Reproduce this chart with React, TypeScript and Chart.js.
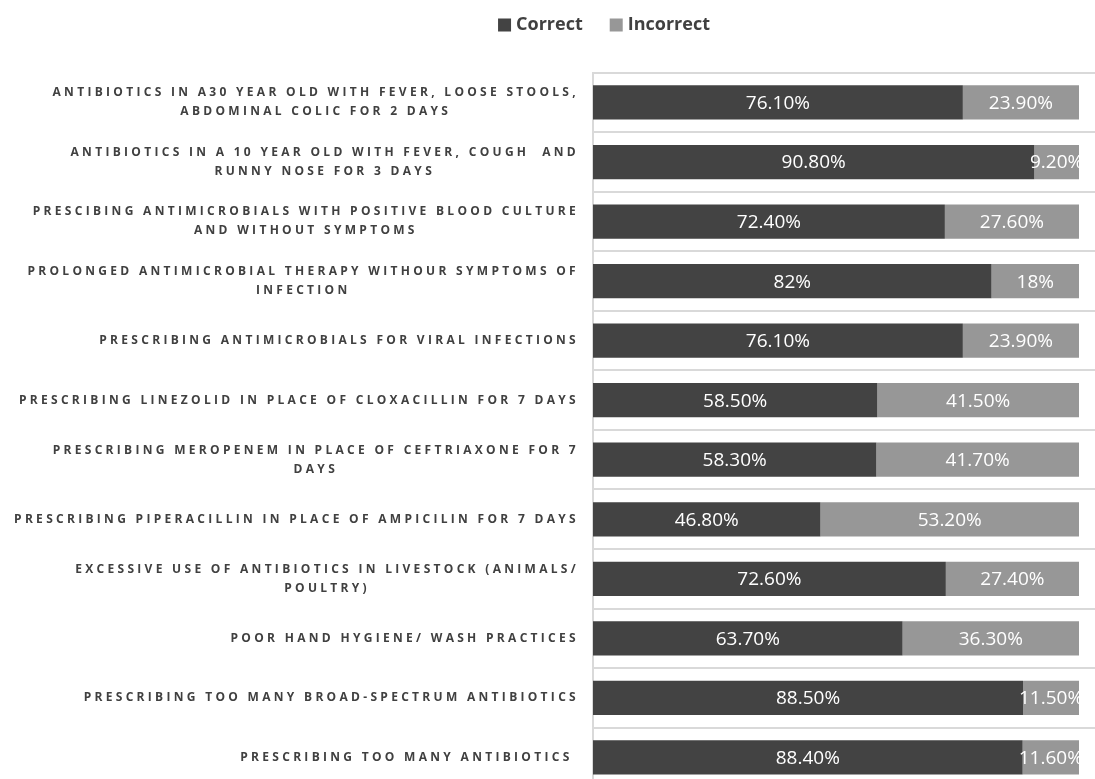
import React, { useEffect, useRef } from "react";
import { Chart, registerables } from "chart.js";

Chart.register(...registerables);

const categories: string[][] = [
  ["ANTIBIOTICS IN A30 YEAR OLD WITH FEVER, LOOSE STOOLS,", "ABDOMINAL COLIC FOR 2 DAYS"],
  ["ANTIBIOTICS IN A 10 YEAR OLD WITH FEVER, COUGH  AND", "RUNNY NOSE FOR 3 DAYS"],
  ["PRESCIBING ANTIMICROBIALS WITH POSITIVE BLOOD CULTURE", "AND WITHOUT SYMPTOMS"],
  ["PROLONGED ANTIMICROBIAL THERAPY WITHOUR SYMPTOMS OF", "INFECTION"],
  ["PRESCRIBING ANTIMICROBIALS FOR VIRAL INFECTIONS"],
  ["PRESCRIBING LINEZOLID IN PLACE OF CLOXACILLIN FOR 7 DAYS"],
  ["PRESCRIBING MEROPENEM IN PLACE OF CEFTRIAXONE FOR 7", "DAYS"],
  ["PRESCRIBING PIPERACILLIN IN PLACE OF AMPICILIN FOR 7 DAYS"],
  ["EXCESSIVE USE OF ANTIBIOTICS IN LIVESTOCK (ANIMALS/", "POULTRY)"],
  ["POOR HAND HYGIENE/ WASH PRACTICES"],
  ["PRESCRIBING TOO MANY BROAD-SPECTRUM ANTIBIOTICS"],
  ["PRESCRIBING TOO MANY ANTIBIOTICS "],
];

const correctValues = [76.1, 90.8, 72.4, 82, 76.1, 58.5, 58.3, 46.8, 72.6, 63.7, 88.5, 88.4];
const incorrectValues = [23.9, 9.2, 27.6, 18, 23.9, 41.5, 41.7, 53.2, 27.4, 36.3, 11.5, 11.6];

const seriesNames = ["Correct", "Incorrect"];
const seriesColors = ["#434343", "#979797"];

const fmt = (v: number) => (Number.isInteger(v) ? `${v}%` : `${v.toFixed(2)}%`);

const yLabelPlugin = {
  id: "yLabelPlugin",
  afterDraw(chart: any) {
    const ctx = chart.ctx;
    const yScale = chart.scales.y;
    ctx.save();
    ctx.font = "bold 12px 'Open Sans'";
    (ctx as any).letterSpacing = "3.3px";
    ctx.fillStyle = "#404040";
    ctx.textAlign = "left";
    ctx.textBaseline = "middle";
    const right = 579;
    const lh = 19;
    categories.forEach((lines, i) => {
      const cy = yScale.getPixelForValue(i);
      const widths = lines.map((l) => ctx.measureText(l).width);
      const blockW = Math.max(...widths);
      const center = right - blockW / 2;
      lines.forEach((l, j) => {
        const y = cy - ((lines.length - 1) * lh) / 2 + j * lh;
        ctx.fillText(l, center - widths[j] / 2, y);
      });
    });
    (ctx as any).letterSpacing = "0px";
    ctx.restore();
  },
};

const dataLabelPlugin = {
  id: "dataLabelPlugin",
  afterDatasetsDraw(chart: any) {
    const ctx = chart.ctx;
    const xScale = chart.scales.x;
    const x0 = xScale.getPixelForValue(0);
    const x100 = xScale.getPixelForValue(100);
    ctx.save();
    ctx.font = "19px 'Open Sans'";
    ctx.fillStyle = "#ffffff";
    ctx.textAlign = "center";
    ctx.textBaseline = "middle";
    chart.data.datasets.forEach((ds: any, di: number) => {
      const meta = chart.getDatasetMeta(di);
      meta.data.forEach((el: any, i: number) => {
        const p = el.getProps(["x", "base", "y", "height"], true);
        ctx.save();
        ctx.beginPath();
        ctx.rect(x0, p.y - p.height / 2, x100 - x0, p.height);
        ctx.clip();
        ctx.fillText(fmt(ds.data[i]), (p.x + p.base) / 2, p.y + 1);
        ctx.restore();
      });
    });
    ctx.restore();
  },
};

const legendPlugin = {
  id: "customLegend",
  afterDraw(chart: any) {
    const ctx = chart.ctx;
    ctx.save();
    ctx.font = "bold 18px 'Open Sans'";
    ctx.textBaseline = "middle";
    ctx.textAlign = "left";
    const box = 13;
    const gapText = 5;
    const gapItem = 27;
    const widths = chart.data.datasets.map((d: any) => ctx.measureText(d.label).width);
    const total =
      widths.reduce((a: number, w: number) => a + box + gapText + w, 0) + gapItem * (widths.length - 1);
    let x = 604 - total / 2;
    const cy = 25;
    chart.data.datasets.forEach((d: any, i: number) => {
      ctx.fillStyle = d.backgroundColor;
      ctx.fillRect(x, cy - box / 2, box, box);
      ctx.fillStyle = "#404040";
      ctx.fillText(d.label, x + box + gapText, cy);
      x += box + gapText + widths[i] + gapItem;
    });
    ctx.restore();
  },
};

export default function App() {
  const ref = useRef<HTMLCanvasElement | null>(null);
  useEffect(() => {
    if (!ref.current) return;
    const chart = new Chart(ref.current, {
      type: "bar",
      data: {
        labels: categories,
        datasets: [
          {
            label: seriesNames[0],
            data: correctValues,
            backgroundColor: seriesColors[0],
            categoryPercentage: 1,
            barPercentage: 0.575,
          },
          {
            label: seriesNames[1],
            data: incorrectValues,
            backgroundColor: seriesColors[1],
            categoryPercentage: 1,
            barPercentage: 0.575,
          },
        ],
      },
      options: {
        indexAxis: "y",
        responsive: false,
        animation: false,
        devicePixelRatio: 1,
        layout: { padding: { top: 72.7, bottom: 2.8, left: 0, right: 0 } },
        plugins: { legend: { display: false }, tooltip: { enabled: false } },
        scales: {
          x: { stacked: true, min: 0, max: (100 * 502) / 486, display: false },
          y: {
            stacked: true,
            offset: true,
            grid: { color: "#d9d9d9", lineWidth: 2, drawTicks: false, offset: true },
            border: { display: true, color: "#d9d9d9", width: 2 },
            ticks: { display: false },
            afterFit: (s: any) => {
              s.width = 593;
            },
          },
        },
      },
      plugins: [dataLabelPlugin, yLabelPlugin, legendPlugin],
    });
    return () => chart.destroy();
  }, []);
  return (
    <div
      style={{
        position: "fixed",
        left: 0,
        top: 0,
        width: 1095,
        height: 779,
        overflow: "hidden",
        background: "#ffffff",
      }}
    >
      <canvas ref={ref} width={1095} height={790} style={{ display: "block" }} />
    </div>
  );
}
